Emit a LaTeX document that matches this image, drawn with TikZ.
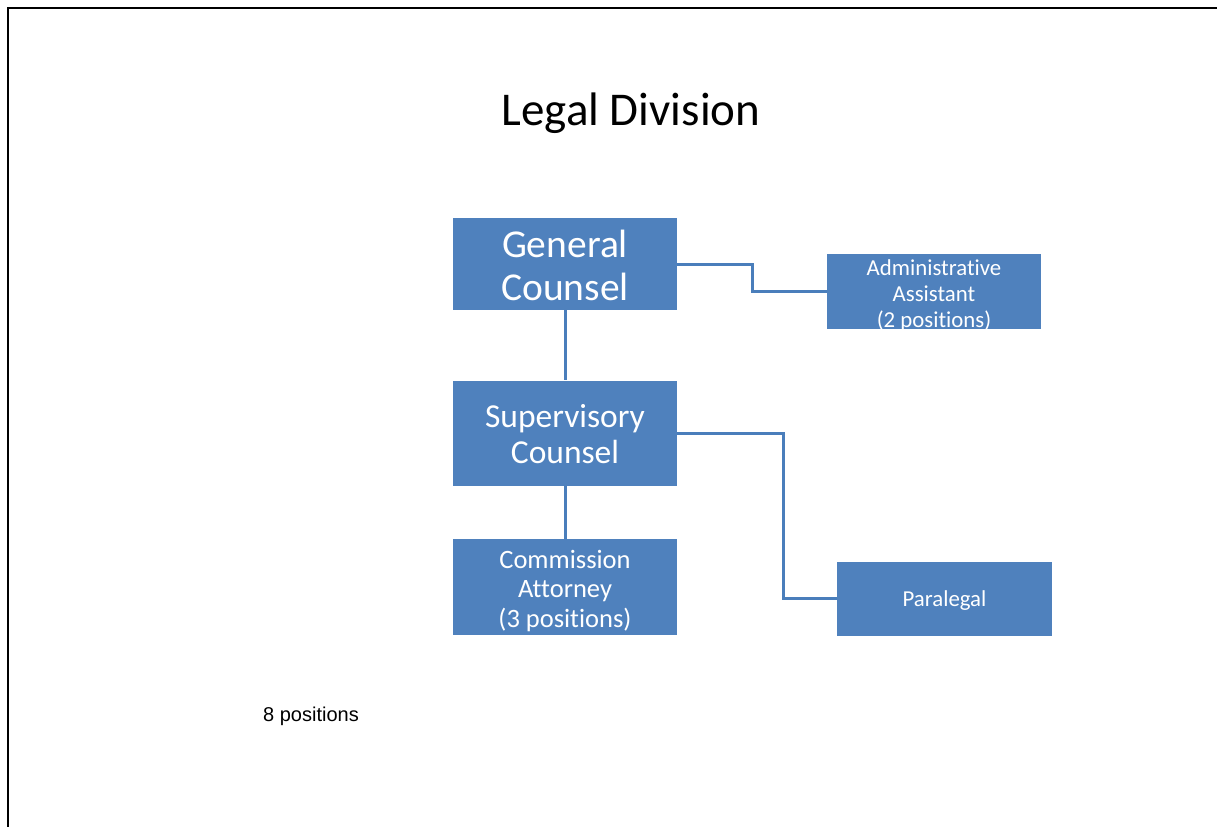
\documentclass[tikz,border=0pt]{standalone}
\usepackage{fontspec}
\setmainfont[Ligatures={NoCommon}]{Carlito}
\newfontfamily\arialfont{Liberation Sans}
\definecolor{boxblue}{HTML}{4F81BD}
\definecolor{lineblue}{HTML}{4A7EBB}
\begin{document}
\begin{tikzpicture}[x=1pt,y=-1pt,
  orgbox/.style={rectangle, fill=boxblue, inner sep=0pt, anchor=center},
  boxtext/.style={text=white, inner sep=0pt, align=center, anchor=center},
  link/.style={draw=lineblue, line width=3pt}]
\useasboundingbox (0,0) rectangle (1217,827);
\fill[white] (0,0) rectangle (1217,827);
% page frame
\draw[line width=2pt] (1217,7.7) -- (7.7,7.7) -- (7.7,827);

% title
\node[anchor=base, font=\fontsize{47}{50}\selectfont] (title) at (631,125) {Legal Division};

% boxes
\node[orgbox, minimum width=224, minimum height=92] (gc) at (565,264) {};
\node[orgbox, minimum width=214, minimum height=75] (admin) at (934,291.5) {};
\node[orgbox, minimum width=224, minimum height=105] (sc) at (565,433) {};
\node[orgbox, minimum width=224, minimum height=96] (ca) at (565,587) {};
\node[orgbox, minimum width=215, minimum height=74] (para) at (944.5,598.5) {};

% box texts (shifted slightly below the box centres)
\node[boxtext, font=\fontsize{39.5}{42.5}\selectfont] (gc-t) at ([yshift=-1.5pt]gc.center) {General\\Counsel};
\node[boxtext, font=\fontsize{22.8}{26}\selectfont] (admin-t) at ([yshift=-3.5pt]admin.center) {Administrative\\Assistant\\(2 positions)};
\node[boxtext, font=\fontsize{33.5}{36}\selectfont] (sc-t) at ([yshift=-1pt]sc.center) {Supervisory\\Counsel};
\node[boxtext, font=\fontsize{26.5}{29.5}\selectfont] (ca-t) at ([yshift=-4pt]ca.center) {Commission\\Attorney\\(3 positions)};
\node[boxtext, font=\fontsize{22.8}{26}\selectfont] (para-t) at ([yshift=-2.5pt]para.center) {Paralegal};

% connectors
\draw[link] (gc.south) -- (sc.north);
\draw[link] (sc.south) -- (ca.north);
\draw[link] (gc.east) -- ++(75,0) |- (admin.west);
\draw[link] (sc.east) -- ++(106,0) |- (para.west);

% footnote
\node[anchor=base west, inner sep=0pt, font=\arialfont\fontsize{20}{22}\selectfont] (total) at (263,721) {8 positions};
\end{tikzpicture}
\end{document}
